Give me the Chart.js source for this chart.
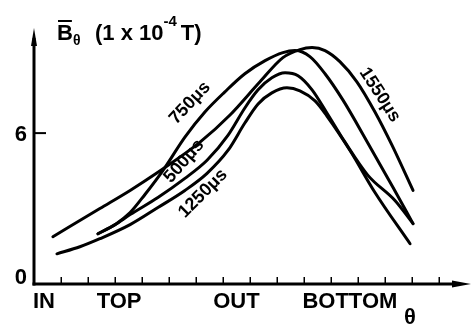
<!DOCTYPE html>
<html><head><meta charset="utf-8">
<script src="https://cdn.jsdelivr.net/npm/chart.js@4/dist/chart.umd.min.js"></script>
<style>html,body{margin:0;padding:0;background:#fff}#wrap{width:471px;height:326px;position:relative}</style>
</head><body><div id="wrap"><canvas id="c"></canvas></div>
<script>
// ---- data (theta in tick units, B in 1e-4 T) ----
const seriesNames = ['500μs', '750μs', '1250μs', '1550μs'];

const theta500 = [2.37, 3.00, 3.56, 4.59, 5.59, 6.41, 7.19, 7.81, 8.30, 8.81, 9.30, 9.78, 10.30, 10.85, 11.52, 12.37, 13.37, 14.04];
const b500     = [2.00, 2.36, 2.76, 3.44, 4.20, 4.92, 5.92, 7.00, 7.72, 8.20, 8.40, 8.28, 7.72, 6.80, 5.64, 4.32, 3.32, 2.40];

const theta750 = [2.37, 3.00, 3.56, 4.11, 4.78, 5.59, 6.33, 7.07, 7.81, 8.56, 9.22, 9.67, 10.22, 10.78, 11.44, 12.37, 13.30, 14.04];
const b750     = [2.00, 2.36, 2.84, 3.56, 4.52, 5.84, 6.84, 7.64, 8.36, 8.88, 9.20, 9.28, 9.04, 8.36, 7.32, 5.60, 3.84, 2.40];

const theta1250 = [0.85, 1.70, 2.44, 3.56, 4.59, 5.59, 6.41, 7.19, 7.81, 8.30, 8.81, 9.37, 9.85, 10.41, 10.85, 11.70, 12.63, 13.93];
const b1250     = [1.20, 1.48, 1.80, 2.36, 3.04, 3.72, 4.40, 5.32, 6.40, 7.16, 7.60, 7.80, 7.68, 7.28, 6.68, 5.32, 3.64, 1.60];

const theta1550 = [0.70, 2.44, 3.56, 4.59, 6.15, 7.26, 8.37, 9.22, 9.85, 10.30, 10.78, 11.33, 11.96, 12.63, 13.26, 14.04];
const b1550     = [1.88, 3.00, 3.72, 4.44, 5.64, 6.72, 8.04, 9.00, 9.32, 9.40, 9.28, 8.84, 8.04, 6.84, 5.52, 3.72];

const xTickLabels = ['IN', 'TOP', 'OUT', 'BOTTOM'];
const xTickLabelAt = [0.37, 3.15, 7.5, 11.7];
const yTickLabels = [0, 6];
const xMinorTicks = [1, 2, 3, 4, 5, 6, 7, 8, 9, 10, 11, 12, 13, 14, 15];

// label anchors for the curve names (data coords) and angles
const curveLabelAt = {
  '500μs':  {x: 5.56, y: 4.88, a: -49},
  '750μs':  {x: 5.78, y: 7.20, a: -47},
  '1250μs': {x: 6.26, y: 3.60, a: -45},
  '1550μs': {x: 12.81, y: 7.52, a: 57}
};

const X_MAX = 16.15, Y_MAX = 10.1;
const pts = (xs, ys) => xs.map((v, i) => ({x: v, y: ys[i]}));
const seriesData = [pts(theta500, b500), pts(theta750, b750), pts(theta1250, b1250), pts(theta1550, b1550)];

const FONT = '"Liberation Sans", Arial, sans-serif';

const decor = {
  id: 'decor',
  afterDraw(chart) {
    const {ctx, scales: {x, y}} = chart;
    const x0 = x.getPixelForValue(0), y0 = y.getPixelForValue(0);
    const yTop = y.getPixelForValue(Y_MAX);
    const xEnd = x.getPixelForValue(X_MAX);
    ctx.save();
    ctx.strokeStyle = '#000'; ctx.fillStyle = '#000';
    // y axis
    ctx.lineWidth = 3;
    ctx.beginPath(); ctx.moveTo(x0, y0 + 1.5); ctx.lineTo(x0, yTop + 8); ctx.stroke();
    ctx.beginPath(); ctx.moveTo(x0, yTop - 2); ctx.lineTo(x0 - 3, yTop + 16); ctx.lineTo(x0 + 3, yTop + 16); ctx.closePath(); ctx.fill();
    // x axis
    ctx.beginPath(); ctx.moveTo(x0 - 1.5, y0); ctx.lineTo(xEnd - 10, y0); ctx.stroke();
    ctx.beginPath(); ctx.moveTo(xEnd + 1, y0); ctx.lineTo(xEnd - 18, y0 - 3.5); ctx.lineTo(xEnd - 18, y0 + 3.5); ctx.closePath(); ctx.fill();
    // minor ticks on x
    ctx.lineWidth = 1.5;
    xMinorTicks.forEach(v => {
      const px = Math.round(x.getPixelForValue(v)) + 0.25;
      ctx.beginPath(); ctx.moveTo(px, y0); ctx.lineTo(px, y0 - 7); ctx.stroke();
    });
    // y tick at 6
    ctx.lineWidth = 2;
    yTickLabels.forEach(v => {
      if (v === 0) return;
      const py = y.getPixelForValue(v);
      ctx.beginPath(); ctx.moveTo(x0, py); ctx.lineTo(x0 + 12, py); ctx.stroke();
    });
    // y tick labels
    ctx.font = 'bold 22px ' + FONT;
    ctx.textAlign = 'right'; ctx.textBaseline = 'alphabetic';
    yTickLabels.forEach(v => {
      const py = y.getPixelForValue(v);
      ctx.fillText(String(v), x0 - 7, Math.min(py + 8, y0));
    });
    // x category labels
    ctx.textAlign = 'center';
    xTickLabels.forEach((t, i) => {
      ctx.fillText(t, x.getPixelForValue(xTickLabelAt[i]), y0 + 24);
    });
    ctx.fillText('θ', x.getPixelForValue(13.93), y0 + 40);
    // y axis title: B̄θ (1 x 10^-4 T)
    ctx.textAlign = 'left';
    ctx.font = 'bold 22px ' + FONT;
    let tx = 57, base = 40;
    ctx.fillText('B', tx, base);
    const bw = ctx.measureText('B').width;
    ctx.lineWidth = 2;
    ctx.beginPath(); ctx.moveTo(tx + 1, base - 19); ctx.lineTo(tx + bw - 1, base - 19); ctx.stroke();
    tx += bw;
    ctx.font = 'bold 14px ' + FONT;
    ctx.fillText('θ', tx, base + 5);
    tx = 95;
    ctx.font = 'bold 22px ' + FONT;
    ctx.fillText('(1 x 10', tx, base);
    tx += ctx.measureText('(1 x 10').width;
    ctx.font = 'bold 15px ' + FONT;
    ctx.fillText('-4', tx, base - 14);
    tx += ctx.measureText('-4').width + 4;
    ctx.font = 'bold 22px ' + FONT;
    ctx.fillText('T)', tx, base);
    // curve labels
    ctx.font = 'bold 18px ' + FONT;
    ctx.textAlign = 'center'; ctx.textBaseline = 'middle';
    seriesNames.forEach(n => {
      const p = curveLabelAt[n];
      ctx.save();
      ctx.translate(x.getPixelForValue(p.x), y.getPixelForValue(p.y));
      ctx.rotate(p.a * Math.PI / 180);
      ctx.fillText(n, 0, 0);
      ctx.restore();
    });
    ctx.restore();
  }
};

new Chart(document.getElementById('c'), {
  type: 'line',
  data: {
    datasets: seriesNames.map((n, i) => ({
      label: n,
      data: seriesData[i],
      borderColor: '#000',
      borderWidth: 3,
      pointRadius: 0,
      fill: false,
      cubicInterpolationMode: 'monotone',
      borderCapStyle: 'round'
    }))
  },
  options: {
    responsive: true,
    maintainAspectRatio: false,
    animation: false,
    layout: {padding: {left: 34, right: 1, top: 30, bottom: 42}},
    plugins: {legend: {display: false}, tooltip: {enabled: false}},
    scales: {
      x: {type: 'linear', min: 0, max: X_MAX, display: false},
      y: {type: 'linear', min: 0, max: Y_MAX, display: false}
    }
  },
  plugins: [decor]
});
</script>
</body></html>
